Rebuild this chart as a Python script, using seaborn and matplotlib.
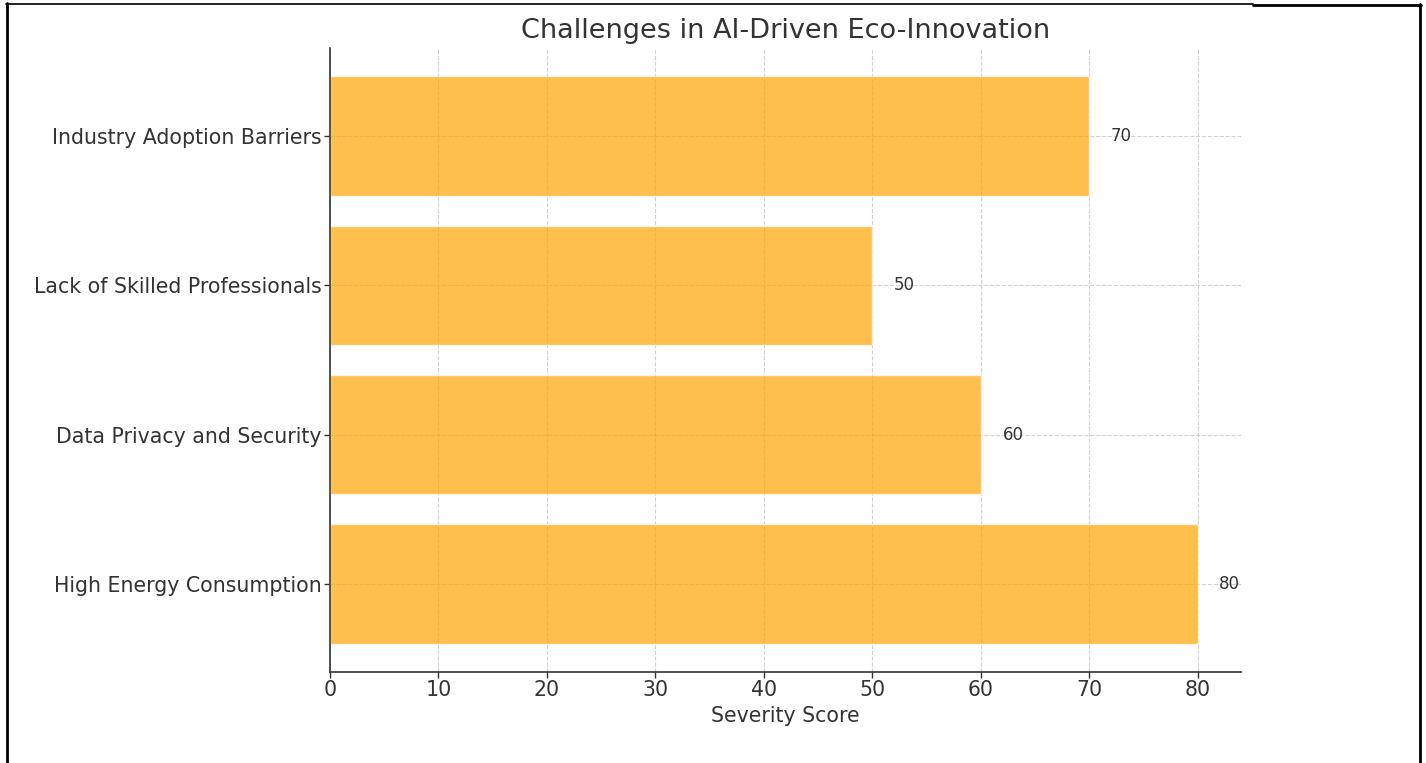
import matplotlib
matplotlib.use("Agg")
import matplotlib.pyplot as plt
import seaborn as sns
import pandas as pd
from matplotlib.lines import Line2D

categories = ["High Energy Consumption", "Data Privacy and Security",
              "Lack of Skilled Professionals", "Industry Adoption Barriers"]
scores = [80, 60, 50, 70]
x_ticks = [0, 10, 20, 30, 40, 50, 60, 70, 80]

sns.set_style("white")
plt.rcParams['font.family'] = ['DejaVu Sans']
text_color = "#333333"

fig = plt.figure(figsize=(14.26, 7.63), dpi=100)
ax = fig.add_axes([330/1426, 1-672/763, (1241-330)/1426, (672-48)/763])

df = pd.DataFrame({"cat": categories, "score": scores})
order = categories[::-1]
sns.barplot(data=df, x="score", y="cat", order=order, color="orange",
            saturation=1, width=0.8, ax=ax)
for p in ax.patches:
    p.set_alpha(0.7)
ax.set_ylim(3.59, -0.59)
ax.set_xlim(0, 84)

ax.set_xticks(x_ticks)
ax.grid(True, linestyle="--", color="#cccccc", linewidth=0.8, alpha=0.9)
ax.set_axisbelow(True)

for i, cat in enumerate(order):
    v = df.loc[df.cat == cat, "score"].iloc[0]
    ax.text(v + 2, i, f"{v}", va="center", ha="left", fontsize=12, color=text_color)

ax.set_title("Challenges in AI-Driven Eco-Innovation", fontsize=19.5, color=text_color, pad=7.5)
ax.set_xlabel("Severity Score", fontsize=14.8, color=text_color, labelpad=4)
ax.set_ylabel("")
ax.tick_params(axis="x", labelsize=14.8, colors=text_color, length=4, width=1, pad=2)
ax.tick_params(axis="y", labelsize=14.8, colors=text_color, length=4, width=1, pad=2)
ax.tick_params(left=True, bottom=True)
for s in ["top", "right"]:
    ax.spines[s].set_visible(False)
for s in ["left", "bottom"]:
    ax.spines[s].set_color("#333333")
    ax.spines[s].set_linewidth(1.2)

W, H = 1426, 763
def fl(x0, y0, x1, y1, lw):
    fig.add_artist(Line2D([x0/W, x1/W], [1-y0/H, 1-y1/H], color="black", linewidth=lw,
                          transform=fig.transFigure))
fl(6.5, 3, 6.5, 763, 2)
fl(6, 3.5, 1253, 3.5, 1.2)
fl(1253, 4.5, 1421, 4.5, 2)
fl(1420, 4, 1420, 763, 2)

fig.savefig("out.png", dpi=100)
